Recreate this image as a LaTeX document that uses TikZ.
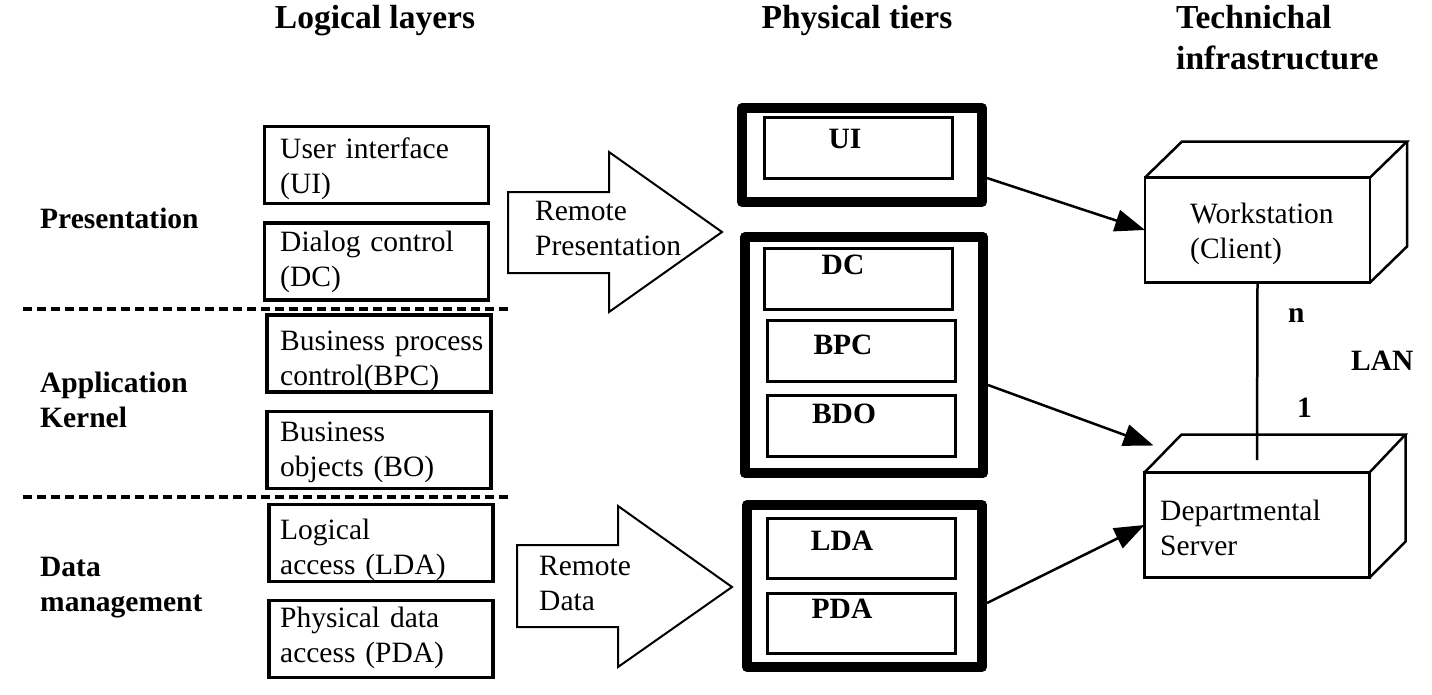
\documentclass[tikz,border=0pt]{standalone}
\usepackage{fontspec}
\setmainfont{Liberation Serif}
\usetikzlibrary{arrows.meta,calc}
\begin{document}
\begin{tikzpicture}[x=1pt,y=-1pt,
  lbox/.style={draw,line width=3.3pt,minimum width=224pt,minimum height=77pt,inner sep=0pt},
  tierbox/.style={draw,line width=10pt,line join=round,inner sep=0pt},
  ibox/.style={draw,line width=3pt,minimum width=188pt,minimum height=61pt,inner sep=0pt},
  cube/.style={draw,line width=2.5pt,inner sep=0pt,outer sep=0pt,minimum width=225pt,minimum height=105pt},
  face/.style={line width=2.5pt},
  txt/.style={font=\fontsize{29.5}{35}\selectfont,inner sep=0pt,anchor=base west,text width=250pt,align=left},
  btxt/.style={font=\bfseries\fontsize{29.5}{35}\selectfont,inner sep=0pt,anchor=base west,text width=250pt,align=left},
  ctxt/.style={font=\bfseries\fontsize{29.5}{35}\selectfont,inner sep=0pt,anchor=base},
  ttl/.style={font=\bfseries\fontsize{33.5}{41}\selectfont,inner sep=0pt,anchor=base},
  ttlw/.style={font=\bfseries\fontsize{33.5}{41}\selectfont,inner sep=0pt,anchor=base west,text width=300pt,align=left},
  conn/.style={line width=2.5pt,-{Triangle[length=30pt,width=22pt]}},
  barrow/.style={draw,line width=2pt,line join=miter},
  sep/.style={line width=3.3pt,dash pattern=on 9pt off 5pt}]

\fill[white] (0,0) rectangle (1432,694);
\useasboundingbox (0,0) rectangle (1432,694);

% titles
\node[ttl] (t1) at (375,28) {Logical layers};
\node[ttl] (t2) at (857,28) {Physical tiers};
\node[ttlw] (t3) at (1176,28) {Technichal\\infrastructure};

% layer labels
\node[btxt] (lp) at (40,228) {Presentation};
\node[btxt] (la) at (40,392) {Application\\Kernel};
\node[btxt] (ld) at (40,576) {Data\\management};

% separators
\coordinate (s1a) at (23,309); \coordinate (s1b) at (512,309);
\coordinate (s2a) at (23,497); \coordinate (s2b) at (512,497);
\draw[sep] (s1a) -- (s1b);
\draw[sep] (s2a) -- (s2b);

% logical boxes
\node[lbox] (bUI)  at (376.5,165) {};
\node[lbox] (bDC)  at (376.5,261.5) {};
\node[lbox] (bBPC) at (379,353.5) {};
\node[lbox] (bBO)  at (379,450) {};
\node[lbox] (bLDA) at (381,543) {};
\node[lbox] (bPDA) at (381,639) {};
\node[txt] (xUI)  at (280,158) {User interface\\(UI)};
\node[txt] (xDC)  at (280,251) {Dialog control\\(DC)};
\node[txt] (xBPC) at (280,350) {Business process\\control(BPC)};
\node[txt] (xBO)  at (280,441) {Business\\objects (BO)};
\node[txt] (xLDA) at (280,539) {Logical\\access (LDA)};
\node[txt] (xPDA) at (280,627) {Physical data\\access (PDA)};

% block arrows
\draw[barrow] (508,192) -- (609,192) -- (609,152) -- (722,232) -- (609,312) -- (609,273) -- (508,273) -- cycle;
\node[txt] (rp) at (535,220) {Remote\\Presentation};
\draw[barrow] (517,545) -- (618,545) -- (618,506) -- (732,587) -- (618,667) -- (618,627) -- (517,627) -- cycle;
\node[txt] (rd) at (539,575) {Remote\\Data};

% physical tiers
\node[tierbox,minimum width=240pt,minimum height=94pt] (tUI) at (862,155) {};
\node[tierbox,minimum width=238pt,minimum height=236pt] (tApp) at (864,355) {};
\node[tierbox,minimum width=235pt,minimum height=162pt] (tData) at (864.5,586) {};
\node[ibox] (iUI)  at (858.5,148) {};
\node[ibox] (iDC)  at (858.5,279) {};
\node[ibox] (iBPC) at (861.5,351) {};
\node[ibox] (iBDO) at (861.5,426) {};
\node[ibox,minimum height=60pt] (iLDA) at (861,548.5) {};
\node[ibox,minimum height=60pt] (iPDA) at (861,623.5) {};
\node[ctxt] (lUI)  at (845,148) {UI};
\node[ctxt] (lDC)  at (843,274) {DC};
\node[ctxt] (lBPC) at (843,354) {BPC};
\node[ctxt] (lBDO) at (844,423) {BDO};
\node[ctxt] (lLDA) at (842,550) {LDA};
\node[ctxt] (lPDA) at (842,618) {PDA};

% infrastructure
\node[cube] (ws) at (1257.5,230) {};
\draw[face] (ws.north west) -- ++(37,-36) -- ($(ws.north east)+(37,-36)$) -- (ws.north east);
\draw[face] ($(ws.north east)+(37,-36)$) -- ($(ws.south east)+(37,-36)$) -- (ws.south east);
\node[txt] (wsT) at (1190,223) {Workstation\\(Client)};

\node[cube] (srv) at (1257,525) {};
\draw[face] (srv.north west) -- ++(37,-38) -- ($(srv.north east)+(36,-38)$) -- (srv.north east);
\draw[face] ($(srv.north east)+(36,-38)$) -- ($(srv.south east)+(36,-36)$) -- (srv.south east);
\node[txt] (srvT) at (1160,520) {Departmental\\Server};

\coordinate (lanend) at (1257,460);
\draw[face] (ws.south) -- (lanend);
\node[btxt,text width=40pt] (nn) at (1288,322) {n};
\node[btxt,text width=40pt] (n1) at (1297,417) {1};
\node[btxt,text width=80pt] (lan) at (1351,370) {LAN};

% connectors
\coordinate (a2end) at ([shift={(9pt,27pt)}]srv.north west);
\draw[conn] ([yshift=-23pt]tUI.east) -- (ws.west);
\draw[conn] ([yshift=-30pt]tApp.east) -- (a2end);
\draw[conn] ([yshift=-17pt]tData.east) -- (srv.west);
\end{tikzpicture}
\end{document}
